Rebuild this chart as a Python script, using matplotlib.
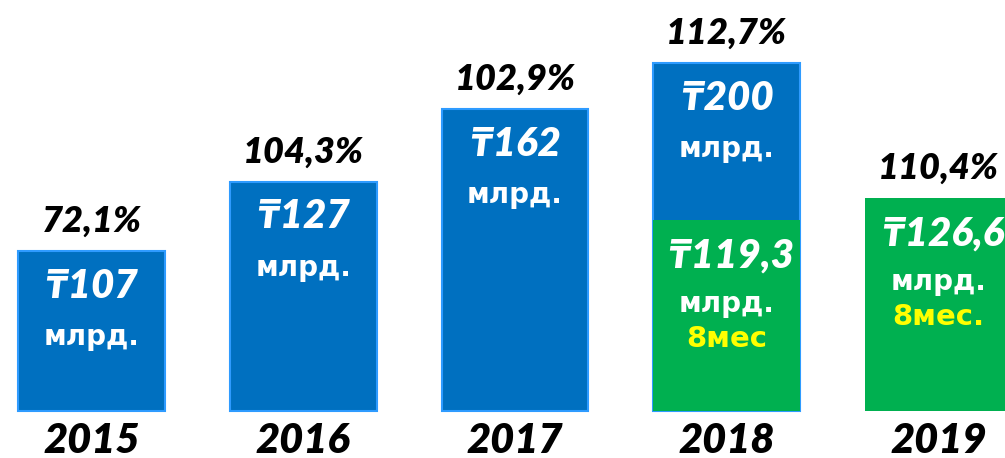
import matplotlib.pyplot as plt

# data
years = ['2015', '2016', '2017', '2018', '2019']
bar_heights = [160, 229, 302, 348, 213]       # visual bar heights (px)
green_heights = [0, 0, 0, 191, 213]           # 8-month part (px)
totals = ['₸107', '₸127', '₸162', '₸200', None]
partials = [None, None, None, '₸119,3', '₸126,6']
partial_notes = [None, None, None, '8мес', '8мес.']
growth = ['72,1%', '104,3%', '102,9%', '112,7%', '110,4%']

BLUE = '#0070C0'
EDGE = '#2E9BFF'
GREEN = '#00B050'
FONT = ['Lato', 'DejaVu Sans']


def main():
    fig = plt.figure(figsize=(10.05, 4.58), dpi=100)
    ax = fig.add_axes([0, 0, 1, 1])
    ax.set_xlim(-0.432, 4.314)
    ax.set_ylim(-47, 411)
    ax.axis('off')

    x = range(len(years))
    w = 0.694
    for i in x:
        if totals[i] is not None:
            ax.bar(i, bar_heights[i], width=w, color=BLUE, edgecolor=EDGE,
                   linewidth=1.5, zorder=2)
        if green_heights[i]:
            ax.bar(i, green_heights[i], width=w, color=GREEN, linewidth=0,
                   zorder=3)

    for i in x:
        top = bar_heights[i]
        ax.text(i, top + 30, growth[i], ha='center', va='center', fontsize=26,
                fontweight='heavy', style='italic', family=FONT, color='black')
        ax.text(i, -30, years[i], ha='center', va='center', fontsize=30,
                fontweight='heavy', style='italic', family=FONT, color='black')
        if totals[i] is not None:
            ax.text(i, top - 35, totals[i], ha='center', va='center',
                    fontsize=29, fontweight='heavy', style='italic',
                    family=FONT, color='white', zorder=4)
            ax.text(i, top - 86, 'млрд.', ha='center', va='center',
                    fontsize=20, fontweight='bold', family='DejaVu Sans',
                    color='white', zorder=4)
        if partials[i] is not None:
            g = green_heights[i]
            ax.text(i + 0.02, g - 36, partials[i], ha='center', va='center',
                    fontsize=29, fontweight='heavy', style='italic',
                    family=FONT, color='white', zorder=4)
            ax.text(i, g - 84, 'млрд.', ha='center', va='center',
                    fontsize=20, fontweight='bold', family='DejaVu Sans',
                    color='white', zorder=4)
            ax.text(i, g - 119, partial_notes[i], ha='center', va='center',
                    fontsize=21, fontweight='bold', family='DejaVu Sans',
                    color='#FFFF00', zorder=4)

    fig.savefig('out.png', dpi=100)


if __name__ == '__main__':
    main()
